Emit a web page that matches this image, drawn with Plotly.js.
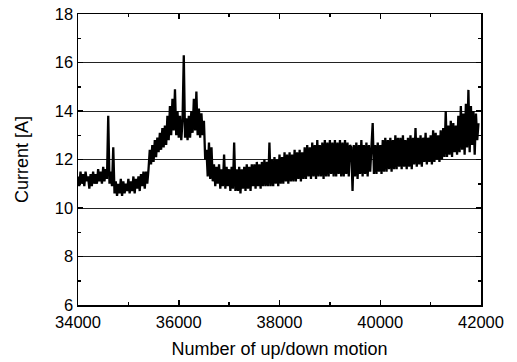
<!DOCTYPE html>
<html><head><meta charset="utf-8">
<script src="https://cdn.plot.ly/plotly-3.0.1.min.js"></script>
<style>html,body{margin:0;padding:0;background:#fff}#chart{width:517px;height:362px}</style>
</head><body><div id="chart"></div>
<script>
// Sampling of the motion count axis
const motionStart = 34000;
const motionStep = 25;
// Current [A], one value per sample
const current = [
 11.3,10.9,11.5,11.0,11.4,10.9,11.5,11.1,11.3,10.8,11.4,10.9,11.5,11.0,11.4,11.0,11.6,11.1,11.5,11.0,11.7,11.1,11.6,11.2,
 13.8,11.0,11.5,10.9,12.5,10.6,
 11.1,10.5,11.0,10.6,11.2,10.5,11.1,10.6,11.0,10.7,11.2,10.6,11.1,10.7,11.3,10.6,11.2,10.8,11.3,10.7,11.4,10.9,11.5,10.8,11.5,
 11.0,11.6,12.4,11.8,12.6,
 11.9,12.8,12.1,12.9,12.3,13.1,12.4,13.3,12.5,
 13.4,12.6,13.8,12.8,
 14.2,13.0,14.5,13.2,14.9,13.0,14.0,12.9,13.8,12.8,13.6,16.3,12.9,13.7,12.8,13.8,12.9,14.0,13.1,14.5,13.2,14.8,13.0,14.1,12.9,13.9,13.0,13.6,12.0,12.4,11.3,12.7,11.2,12.5,11.1,
 11.8,10.9,11.7,11.0,11.8,10.8,11.6,10.9,12.2,10.8,11.7,10.9,11.6,10.7,11.7,10.8,
 12.7,10.7,
 11.6,10.7,11.7,10.6,11.6,10.8,11.7,10.7,11.8,10.8,11.7,10.7,11.8,10.9,11.8,10.8,11.9,10.9,11.8,10.8,11.9,10.9,12.0,10.9,11.9,10.9,
 12.7,10.9,
 12.0,10.9,12.1,11.0,12.0,10.9,12.2,11.0,12.1,11.0,12.3,11.1,12.2,11.0,12.3,11.1,12.2,11.1,12.4,11.1,12.3,11.2,12.4,11.1,12.3,11.2,
 12.5,11.2,12.6,11.3,12.5,11.2,12.7,11.3,12.6,11.2,12.8,11.3,12.6,11.3,12.7,11.2,12.8,11.3,12.7,11.3,12.8,11.4,12.7,11.3,12.8,11.3,12.7,11.4,12.8,11.3,12.7,11.3,12.8,11.4,12.7,11.3,12.6,
 12.5,10.7,12.6,
 11.3,12.7,11.2,12.6,11.4,12.8,11.3,12.6,11.4,12.7,11.3,12.6,11.5,12.7,
 13.5,11.4,
 12.6,11.4,12.7,11.5,12.6,11.4,12.8,11.5,12.9,11.5,12.8,11.6,12.9,11.5,12.8,11.6,13.0,11.6,12.9,11.7,12.9,11.6,13.0,11.7,12.8,11.6,12.9,11.7,13.0,11.6,12.9,
 11.8,13.3,11.7,
 12.9,11.8,13.0,11.7,12.9,11.9,13.1,11.8,12.9,11.9,13.0,11.8,13.2,11.9,13.1,12.0,13.0,11.9,13.2,12.0,13.3,12.1,
 14.0,12.1,
 13.4,12.2,13.6,12.1,13.5,12.3,13.4,12.2,13.8,
 12.3,14.2,12.4,13.9,12.2,14.3,12.5,14.87,12.3,14.2,12.6,14.0,12.2,13.9,12.8,
 13.5
];
const motion = current.map((_, i) => motionStart + i * motionStep);
const xTicks = [34000, 36000, 38000, 40000, 42000];
const yTicks = [6, 8, 10, 12, 14, 16, 18];

const family = 'Liberation Sans, Arial, sans-serif';
const tickFont = {family: family, size: 16.5, color: '#000'};
const titleFont = {family: family, size: 18, color: '#000'};
const trace = {x: motion, y: current, type: 'scatter', mode: 'lines',
  line: {color: '#000', width: 2.3}, hoverinfo: 'skip'};
const layout = {
  width: 517, height: 362,
  margin: {l: 78, r: 36, t: 14, b: 57},
  paper_bgcolor: '#fff', plot_bgcolor: '#fff',
  showlegend: false, font: tickFont,
  xaxis: {range: [34000, 42000], tickvals: xTicks, ticktext: xTicks.map(String),
    ticks: 'inside', ticklen: 5, tickwidth: 1.5, tickcolor: '#000',
    minor: {dtick: 1000, ticks: 'inside', ticklen: 3, tickcolor: '#000', showgrid: false},
    showgrid: false, zeroline: false, showline: true, linecolor: '#000', linewidth: 1.5, mirror: 'ticks',
    title: {text: 'Number of up/down motion', font: titleFont, standoff: 12},
    tickfont: tickFont, ticklabelstandoff: 2},
  yaxis: {range: [6, 18], tickvals: yTicks, ticktext: yTicks.map(String),
    ticks: 'inside', ticklen: 5, tickwidth: 1.5, tickcolor: '#000',
    minor: {dtick: 1, ticks: 'inside', ticklen: 3, tickcolor: '#000', showgrid: false},
    showgrid: true, gridcolor: '#222', gridwidth: 1,
    zeroline: false, showline: true, linecolor: '#000', linewidth: 1.5, mirror: 'ticks',
    title: {text: 'Current [A]', font: titleFont, standoff: 21},
    tickfont: tickFont}
};
Plotly.newPlot('chart', [trace], layout, {displayModeBar: false, staticPlot: true});
</script></body></html>
